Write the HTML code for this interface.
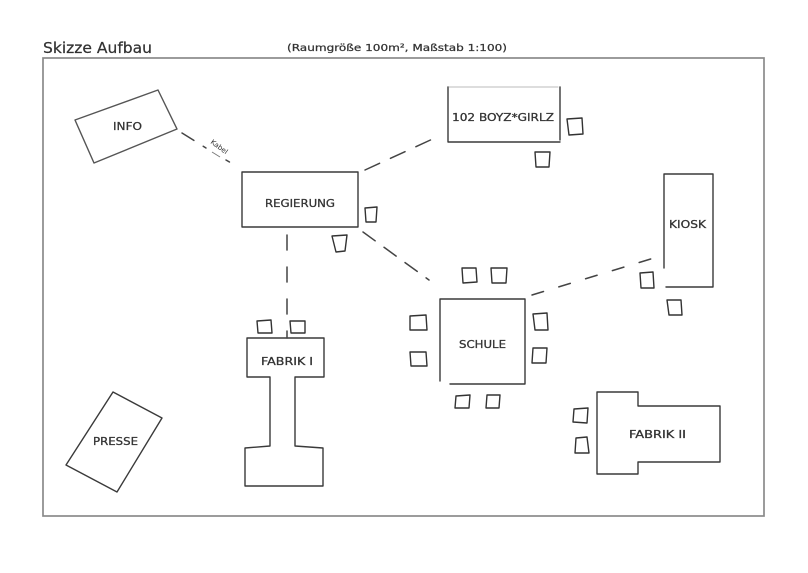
<!DOCTYPE html>
<html>
<head>
<meta charset="utf-8">
<style>
html,body{margin:0;padding:0;background:#fff;}
svg{display:block;}
text{font-family:"DejaVu Sans","Liberation Sans",sans-serif;fill:#333;}
</style>
</head>
<body>
<svg width="808" height="573" viewBox="0 0 808 573" xmlns="http://www.w3.org/2000/svg">
<rect x="0" y="0" width="808" height="573" fill="#fff"/>
<!-- title -->
<text x="43" y="53" font-size="15" textLength="109" lengthAdjust="spacingAndGlyphs" fill="#222" stroke="#222" stroke-width="0.2">Skizze Aufbau</text>
<text x="287" y="51" font-size="10" textLength="220" lengthAdjust="spacingAndGlyphs" fill="#333" stroke="#333" stroke-width="0.25">(Raumgröße 100m², Maßstab 1:100)</text>
<!-- frame -->
<rect x="43" y="58" width="721" height="458" fill="none" stroke="#8a8a8a" stroke-width="1.7"/>

<g fill="none" stroke="#3a3a3a" stroke-width="1.4" stroke-linejoin="round" stroke-linecap="round">
<!-- INFO -->
<polygon points="75,120 158,90 177,129 94,163" stroke="#555"/>
<!-- REGIERUNG -->
<rect x="242" y="172" width="116" height="55"/>
<!-- 102 BOYZ -->
<path d="M448,87 L448,142 L560,142 M560,87 L560,140" />
<path d="M449,87 L558,87" stroke="#bbb" stroke-width="1"/>
<!-- KIOSK -->
<path d="M664,174 L713,174 L713,287 L666,287 M664,174 L664,268"/>
<!-- SCHULE -->
<path d="M440,299 L525,299 L525,384 L450,384 M440,299 L440,381"/>
<!-- FABRIK I -->
<path d="M247,338 L324,338 L324,377 L295,377 L295,446 L323,448 L323,486 L245,486 L245,448 L270,446 L270,377 L247,377 Z"/>
<!-- FABRIK II -->
<path d="M597,392 L638,392 L638,406 L720,406 L720,462 L638,462 L638,474 L597,474 Z"/>
<!-- PRESSE -->
<polygon points="113,392 162,418 117,492 66,465"/>

<!-- dashed connectors -->
<g stroke="#444" stroke-width="1.5" stroke-dasharray="14 11">
<line x1="182" y1="133" x2="206" y2="148"/>
<line x1="226" y1="160" x2="238" y2="167" stroke-dasharray="4 20"/>
<line x1="365" y1="170" x2="437" y2="137" stroke-dasharray="16 12"/>
<line x1="363" y1="232" x2="429" y2="280" stroke-dasharray="15 11"/>
<line x1="532" y1="295" x2="654" y2="258" stroke-dasharray="12 16"/>
<line x1="287" y1="235" x2="287" y2="338" stroke-dasharray="15 17"/>
</g>

<!-- chairs -->
<g stroke="#333" stroke-width="1.4">
<path d="M365,208 L377,207 L376,222 L366,222 Z"/>
<path d="M332,236 L347,235 L345,251 L336,252 Z"/>
<path d="M567,119 L582,118 L583,134 L569,135 Z"/>
<path d="M535,152 L550,152 L549,167 L536,167 Z"/>
<path d="M640,273 L653,272 L654,288 L641,288 Z"/>
<path d="M667,300 L681,300 L682,315 L669,315 Z"/>
<path d="M462,268 L476,268 L477,282 L463,283 Z"/>
<path d="M491,268 L507,268 L506,283 L492,283 Z"/>
<path d="M410,316 L426,315 L427,330 L410,330 Z"/>
<path d="M410,352 L426,352 L427,366 L411,366 Z"/>
<path d="M533,314 L547,313 L548,330 L535,330 Z"/>
<path d="M533,348 L547,348 L546,363 L532,363 Z"/>
<path d="M456,396 L470,395 L469,408 L455,408 Z"/>
<path d="M487,395 L500,395 L499,408 L486,408 Z"/>
<path d="M574,409 L588,408 L587,423 L573,422 Z"/>
<path d="M576,438 L587,437 L589,453 L575,453 Z"/>
<path d="M257,321 L271,320 L272,333 L258,333 Z"/>
<path d="M290,321 L305,321 L305,333 L291,333 Z"/>
</g>
</g>

<!-- labels -->
<g font-size="11" fill="#333" stroke="#333" stroke-width="0.3">
<text x="113" y="130" textLength="29" lengthAdjust="spacingAndGlyphs">INFO</text>
<text x="265" y="207" textLength="70" lengthAdjust="spacingAndGlyphs">REGIERUNG</text>
<text x="452" y="121" textLength="102" lengthAdjust="spacingAndGlyphs">102 BOYZ*GIRLZ</text>
<text x="669" y="228" textLength="37" lengthAdjust="spacingAndGlyphs">KIOSK</text>
<text x="459" y="348" textLength="47" lengthAdjust="spacingAndGlyphs">SCHULE</text>
<text x="261" y="365" textLength="52" lengthAdjust="spacingAndGlyphs">FABRIK I</text>
<text x="629" y="438" textLength="57" lengthAdjust="spacingAndGlyphs">FABRIK II</text>
<text x="93" y="445" textLength="45" lengthAdjust="spacingAndGlyphs">PRESSE</text>
</g>
<text x="0" y="0" font-size="7" fill="#444" transform="translate(210,143) rotate(36)">Kabel</text>
<line x1="212" y1="152" x2="220" y2="157" stroke="#777" stroke-width="0.9"/>
</svg>
</body>
</html>
